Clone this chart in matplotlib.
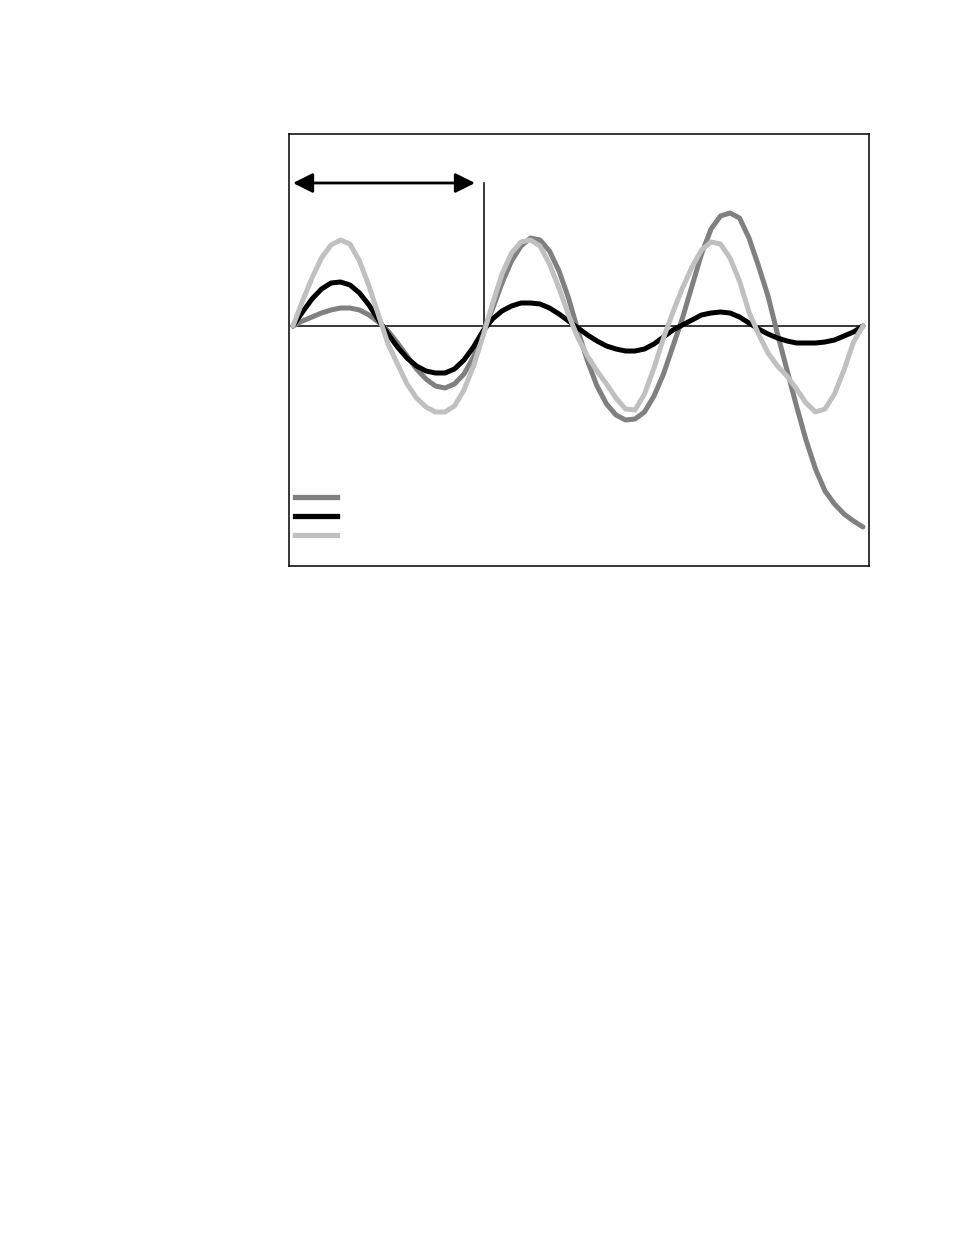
#!/usr/bin/env python3

import numpy as np
import matplotlib
matplotlib.use("Agg")
import matplotlib.pyplot as plt
from matplotlib.lines import Line2D

# x in periods (3 cycles) (px above the zero line)
t = np.round(np.arange(0, 3.0001, 0.05), 2)

dark_gray = [0, 5, 9, 13, 16, 18, 18, 16, 11, 4,
             -5, -17, -30, -43, -53, -60, -62, -58, -48, -31,
             -6, 17, 43, 65, 80, 88, 86, 75, 55, 28,
             -5, -35, -60, -78, -89, -94, -93, -86, -70, -48,
             -20, 8, 40, 72, 97, 110, 113, 108, 88, 60,
             30, -8, -44, -80, -114, -143, -165, -178, -188, -195,
             -201]

black = [0, 14, 27, 37, 43, 44, 41, 33, 21, 6,
         -8, -21, -32, -40, -45, -47, -47, -43, -34, -21,
         -5, 7, 15, 20, 23, 23, 22, 18, 12, 5,
         -2, -9, -15, -20, -23, -25, -25, -23, -18, -11,
         -4, 1, 6, 11, 13, 14, 13, 9, 3, -3,
         -8, -12, -15, -17, -17, -17, -16, -14, -10, -6,
         0]

light_gray = [0, 25, 48, 68, 81, 86, 82, 65, 40, 11,
              -18, -38, -58, -72, -81, -86, -86, -80, -64, -40,
              -10, 22, 52, 73, 84, 86, 80, 62, 38, 11,
              -12, -30, -45, -58, -72, -83, -84, -68, -42, -12,
              14, 38, 59, 76, 84, 82, 68, 45, 14, -8,
              -27, -40, -50, -63, -77, -86, -83, -68, -44, -16,
              0]

series_colors = ["#808080", "#000000", "#c0c0c0"]

fig = plt.figure(figsize=(9.54, 12.35), dpi=100)
ax = fig.add_axes([289 / 954, 1 - 566 / 1235, 580 / 954, 432 / 1235])
ax.set_xlim(-4 / 190, 576 / 190)
ax.set_ylim(-240, 192)
ax.set_xticks([])
ax.set_yticks([])
for s in ax.spines.values():
    s.set_linewidth(1.1)

# zero line
ax.plot([0, 3.0], [0, 0], color="black", lw=1.1, zorder=1)
# period marker
ax.plot([1.005, 1.005], [0, 143], color="black", lw=1.1, zorder=1)
ax.annotate("", xy=(0.0, 143), xytext=(0.958, 143),
            arrowprops=dict(arrowstyle="<|-|>", color="black", lw=2,
                            mutation_scale=30, shrinkA=0, shrinkB=0))

for vals, c in zip([dark_gray, black, light_gray], series_colors):
    ax.plot(t, vals, color=c, lw=3.6, solid_capstyle="round",
            solid_joinstyle="round", zorder=2)

handles = [Line2D([0], [0], color=c, lw=3.8) for c in series_colors]
ax.legend(handles, ["", "", ""], loc="lower left", frameon=False,
          bbox_to_anchor=(-0.004, 0.034), handlelength=3.0, handletextpad=0,
          labelspacing=0.35, fontsize=10, borderaxespad=0.2)

plt.savefig("out.png", dpi=100)
